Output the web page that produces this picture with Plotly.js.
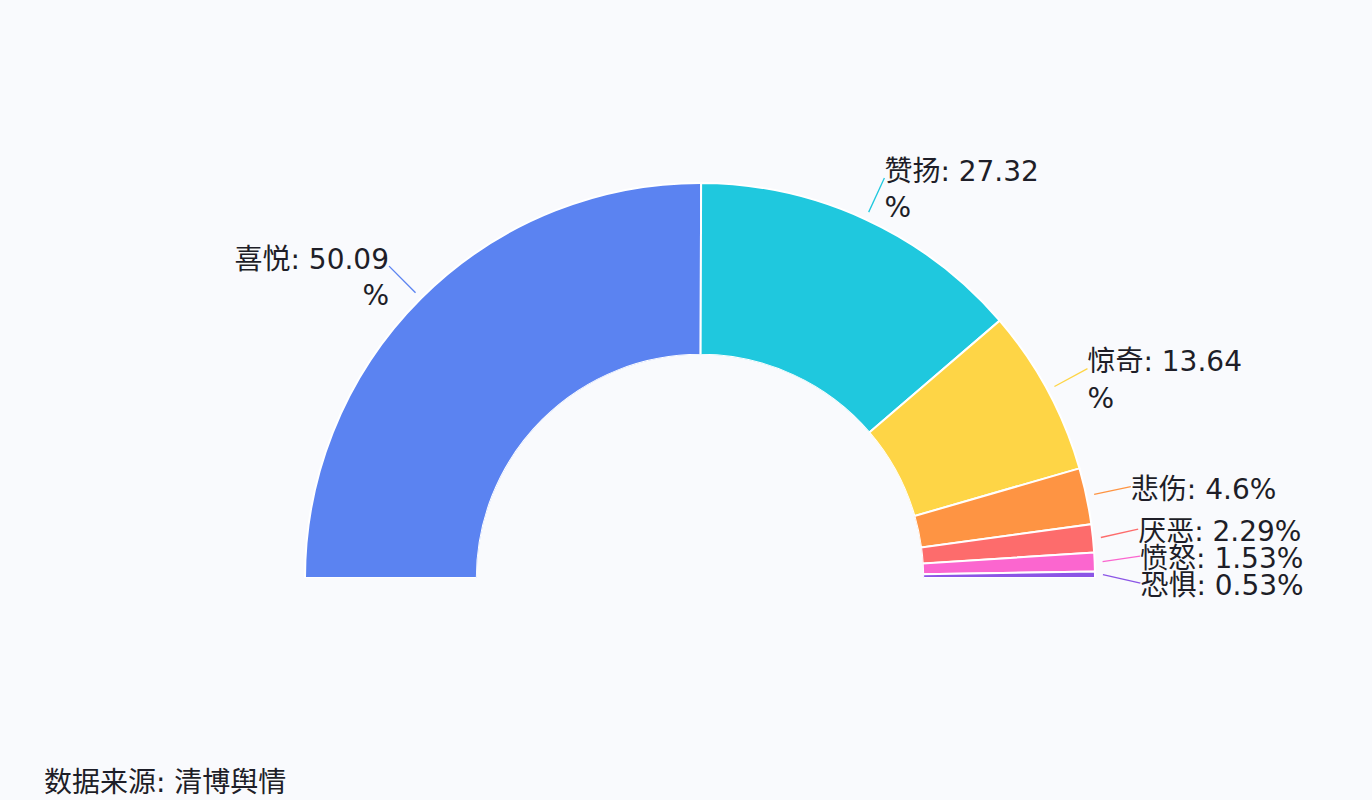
<!DOCTYPE html>
<html>
<head>
<meta charset="utf-8">
<script src="https://cdn.plot.ly/plotly-3.0.1.min.js"></script>
<style>
  html, body { margin: 0; padding: 0; background: #f9fafd; }
</style>
</head>
<body>
<div id="chart" style="width:1372px;height:800px"></div>
<script>
const emotions = ["喜悦", "赞扬", "惊奇", "悲伤", "厌恶", "愤怒", "恐惧"];
const shares = [50.09, 27.32, 13.64, 4.6, 2.29, 1.53, 0.53];
const sliceColors = ["#5b83f1", "#1fc8de", "#fed546", "#fe9443", "#fd6c6c", "#fb66cf", "#8b55e6"];
const sourceNote = "数据来源: 清博舆情";

// page geometry, in pixels
const W = 1372, H = 800;
const cx = 700, cy = 578;      // centre of the half ring
const outerPx = 395;           // outer radius of the ring
const inner = 0.565;           // inner radius as a share of the outer one
const rMax = 1.3;              // radial range, ring itself goes 0..1
const areaR = inner + rMax * (1 - inner);   // polar area radius in outer radii
const areaPx = areaR * outerPx;

// label lines, in outer radii
const lineFrom = 1.02;
const lineTo = 1.115;
const labelGap = 27 / outerPx;
const maxChars = 9;

const textFont = { family: "DejaVu Sans, Noto Sans CJK SC, sans-serif", size: 28, color: "#1e1e28" };

// slice spans on a 180 degree sweep
const total = shares.reduce((a, b) => a + b, 0);
const spans = shares.map((v) => (v / total) * 180);
const mids = [];
let acc = 0;
spans.forEach((s) => {
  mids.push(acc + s / 2);
  acc += s;
});

// angle 0 is the left end, 180 the right end (clockwise over the top)
function toXY(theta, d) {
  const a = ((180 - theta) * Math.PI) / 180;
  return [d * Math.cos(a), d * Math.sin(a)];
}

function wrapLabel(str) {
  const chars = Array.from(str);
  if (chars.length <= maxChars) return str;
  return chars.slice(0, maxChars).join("") + "<br>" + chars.slice(maxChars).join("");
}

let labels = emotions.map((name, i) => {
  const [x0, y0] = toXY(mids[i], lineFrom);
  const [x1, y1] = toXY(mids[i], lineTo);
  const text = wrapLabel(`${name}: ${shares[i]}%`);
  return {
    i: i,
    side: mids[i] < 90 ? "left" : "right",
    x0: x0, y0: y0,
    x: x1, y: y1, yNat: y1,
    text: text,
    lines: text.split("<br>").length,
  };
});

// keep labels on one side from running into each other
function spreadLabels(items) {
  items.sort((a, b) => b.y - a.y);
  for (let k = 1; k < items.length; k++) {
    if (items[k - 1].y - items[k].y < labelGap) items[k].y = items[k - 1].y - labelGap;
  }
  // pull each packed group back toward where it wanted to be
  let k = 0;
  let prevBottom = null;
  while (k < items.length) {
    let end = k;
    while (end + 1 < items.length && Math.abs(items[end].y - items[end + 1].y - labelGap) < 1e-9) end++;
    const group = items.slice(k, end + 1);
    let shift = group.reduce((s, it) => s + (it.y - it.yNat), 0) / group.length;
    if (prevBottom !== null && prevBottom - (group[0].y - shift) < labelGap) {
      shift = group[0].y - (prevBottom - labelGap);
    }
    group.forEach((it) => (it.y -= shift));
    prevBottom = group[group.length - 1].y;
    k = end + 1;
  }
}
spreadLabels(labels.filter((l) => l.side === "left"));
spreadLabels(labels.filter((l) => l.side === "right"));
labels.sort((a, b) => a.i - b.i);

const ring = {
  type: "barpolar",
  r: shares.map(() => 1),
  base: shares.map(() => 0),
  theta: mids,
  width: spans,
  marker: { color: sliceColors, line: { color: "#ffffff", width: 2 } },
  hoverinfo: "skip",
  showlegend: false,
};

const leaderLines = labels.map((l) => ({
  type: "scatter",
  mode: "lines",
  x: [l.x0, l.x],
  y: [l.y0, l.y],
  line: { color: sliceColors[l.i], width: 1.3 },
  hoverinfo: "skip",
  showlegend: false,
}));

// text sits a little low against the line end, more so when wrapped
const labelText = {
  type: "scatter",
  mode: "text",
  x: labels.map((l) => l.x),
  y: labels.map((l) => l.y - (l.lines > 1 ? 14 : 5) / outerPx),
  text: labels.map((l) => l.text),
  textposition: labels.map((l) => (l.side === "left" ? "middle left" : "middle right")),
  textfont: textFont,
  cliponaxis: false,
  hoverinfo: "skip",
  showlegend: false,
};

const layout = {
  width: W,
  height: H,
  margin: { l: 0, r: 0, t: 0, b: 0 },
  paper_bgcolor: "#f9fafd",
  plot_bgcolor: "rgba(0,0,0,0)",
  showlegend: false,
  font: textFont,
  polar: {
    domain: {
      x: [(cx - areaPx) / W, (cx + areaPx) / W],
      y: [(H - cy) / H, (H - cy + areaPx) / H],
    },
    sector: [0, 180],
    hole: inner / areaR,
    bgcolor: "rgba(0,0,0,0)",
    radialaxis: { range: [0, rMax], visible: false, showgrid: false },
    angularaxis: { rotation: 180, direction: "clockwise", visible: false, showgrid: false },
  },
  // cartesian frame measured in outer radii, centred on the ring
  xaxis: { range: [-cx / outerPx, (W - cx) / outerPx], visible: false, fixedrange: true },
  yaxis: { range: [-(H - cy) / outerPx, cy / outerPx], visible: false, fixedrange: true },
  annotations: [
    {
      text: sourceNote,
      xref: "paper",
      yref: "paper",
      x: 42 / W,
      y: (H - 782) / H,
      xanchor: "left",
      yanchor: "middle",
      showarrow: false,
      font: textFont,
    },
  ],
};

Plotly.newPlot("chart", [ring, ...leaderLines, labelText], layout, { displayModeBar: false, staticPlot: true });
</script>
</body>
</html>
